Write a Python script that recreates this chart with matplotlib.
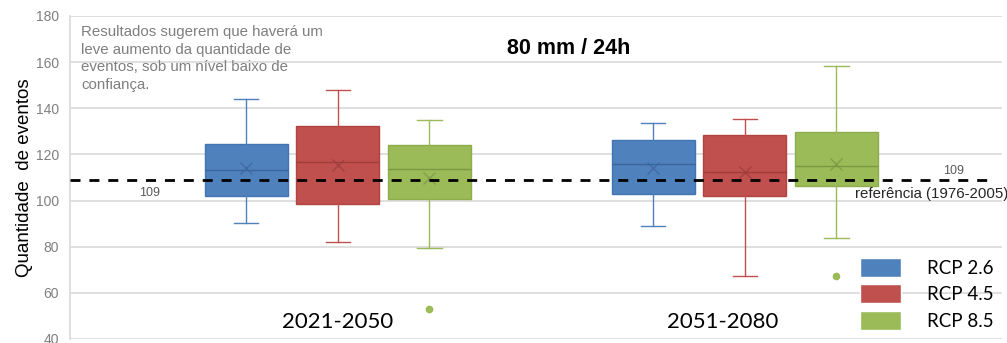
# Boxplot: quantidade de eventos 80 mm / 24h, RCPs por periodo
import matplotlib
matplotlib.use("Agg")
import matplotlib.pyplot as plt
from matplotlib.patches import Patch

periods = ["2021-2050", "2051-2080"]
scenarios = ["RCP 2.6", "RCP 4.5", "RCP 8.5"]

# per period, per scenario: whislo, q1, med, q3, whishi, mean
whislo = [[90.4, 82.1, 79.5], [88.8, 67.4, 83.8]]
q1 = [[102.1, 98.4, 100.6], [102.7, 102.1, 106.5]]
med = [[113.3, 116.5, 113.8], [115.8, 112.2, 114.8]]
q3 = [[124.5, 132.2, 123.9], [126.3, 128.3, 129.5]]
whishi = [[144.2, 147.9, 134.7], [133.8, 135.3, 158.2]]
means = [[114.3, 115.4, 109.7], [114.3, 112.2, 115.8]]
fliers = [[[], [], [52.8]], [[], [], [67.4]]]

reference = 109
ref_label = "referência (1976-2005)"
note = ("Resultados sugerem que haverá um\nleve aumento da quantidade de\n"
        "eventos, sob um nível baixo de\nconfiança.")

face = ["#4F81BD", "#C0504D", "#9BBB59"]
edge = ["#4174B0", "#B04441", "#8DAD4C"]
dark = ["#3B669C", "#9E3D3A", "#7A9844"]

fig = plt.figure(figsize=(10.07, 3.43), dpi=100)
ax = fig.add_axes([0.0695, 0.0117, 0.9255, 0.9417])

offsets = [-0.225, 0.0, 0.225]
for g in range(len(periods)):
    for s in range(len(scenarios)):
        st = [dict(med=med[g][s], q1=q1[g][s], q3=q3[g][s],
                   whislo=whislo[g][s], whishi=whishi[g][s],
                   mean=means[g][s], fliers=fliers[g][s])]
        ax.bxp(st, positions=[g + offsets[s]], widths=0.204, capwidths=0.06,
               patch_artist=True, showmeans=True, manage_ticks=False,
               boxprops=dict(facecolor=face[s], edgecolor=edge[s], linewidth=1),
               whiskerprops=dict(color=face[s], linewidth=1),
               capprops=dict(color=face[s], linewidth=1),
               medianprops=dict(color=dark[s], linewidth=1),
               meanprops=dict(marker="x", markeredgecolor=dark[s],
                              markersize=9, markeredgewidth=1, alpha=0.8),
               flierprops=dict(marker="o", markerfacecolor=face[s],
                               markeredgecolor=face[s], markersize=4.5))

ax.set_xlim(-0.658, 1.632)
ax.set_ylim(40, 180)
ax.set_yticks(range(40, 181, 20))
ax.grid(True, axis="y", color="#D9D9D9", linewidth=1.2)
ax.set_axisbelow(True)
for sp in ["top", "right", "bottom"]:
    ax.spines[sp].set_visible(False)
ax.spines["left"].set_color("#D9D9D9")
ax.spines["left"].set_linewidth(1.2)
ax.tick_params(axis="y", length=0, labelsize=10, labelcolor="#7F7F7F", pad=8)
ax.tick_params(axis="x", length=0, labelbottom=False)
for lb in ax.get_yticklabels():
    lb.set_fontfamily("Liberation Sans")

ax.set_ylabel("Quantidade  de eventos", fontsize=13.5, family="Liberation Sans",
              labelpad=2)

ax.axhline(reference, xmin=0, xmax=0.987, color="black", linewidth=2,
           linestyle=(0, (3.6, 3.2)), zorder=5)
ax.text(-0.463, reference - 5.8, str(reference), fontsize=9, color="#595959",
        ha="center", va="center", family="Liberation Sans")
ax.text(1.513, reference + 4, str(reference), fontsize=9, color="#595959",
        ha="center", va="center", family="Liberation Sans")
ax.text(1.647, reference - 6.3, ref_label, fontsize=10.8, color="#262626",
        ha="right", va="center", family="Liberation Sans")

ax.text(0.012, 0.972, note, transform=ax.transAxes, fontsize=10.8,
        color="#7F7F7F", ha="left", va="top", linespacing=1.32,
        family="Liberation Sans")
ax.text(0.535, 0.90, "80 mm / 24h", transform=ax.transAxes, fontsize=15.5,
        fontweight="bold", ha="center", va="center", family="Liberation Sans")

for g, p in enumerate(periods):
    ax.text(g - 0.053 * g, 47.5, p, fontsize=16, ha="center", va="center",
            family="Lato")

handles = [Patch(facecolor=face[s], edgecolor="white") for s in range(3)]
ax.legend(handles, scenarios, loc="upper left", bbox_to_anchor=(0.838, 0.28),
          frameon=False, prop=dict(family="Lato", size=13.5),
          handlelength=2.15, handleheight=1.15, handletextpad=1.4,
          labelspacing=0.42, borderpad=0)

fig.savefig("out.png", dpi=100)
